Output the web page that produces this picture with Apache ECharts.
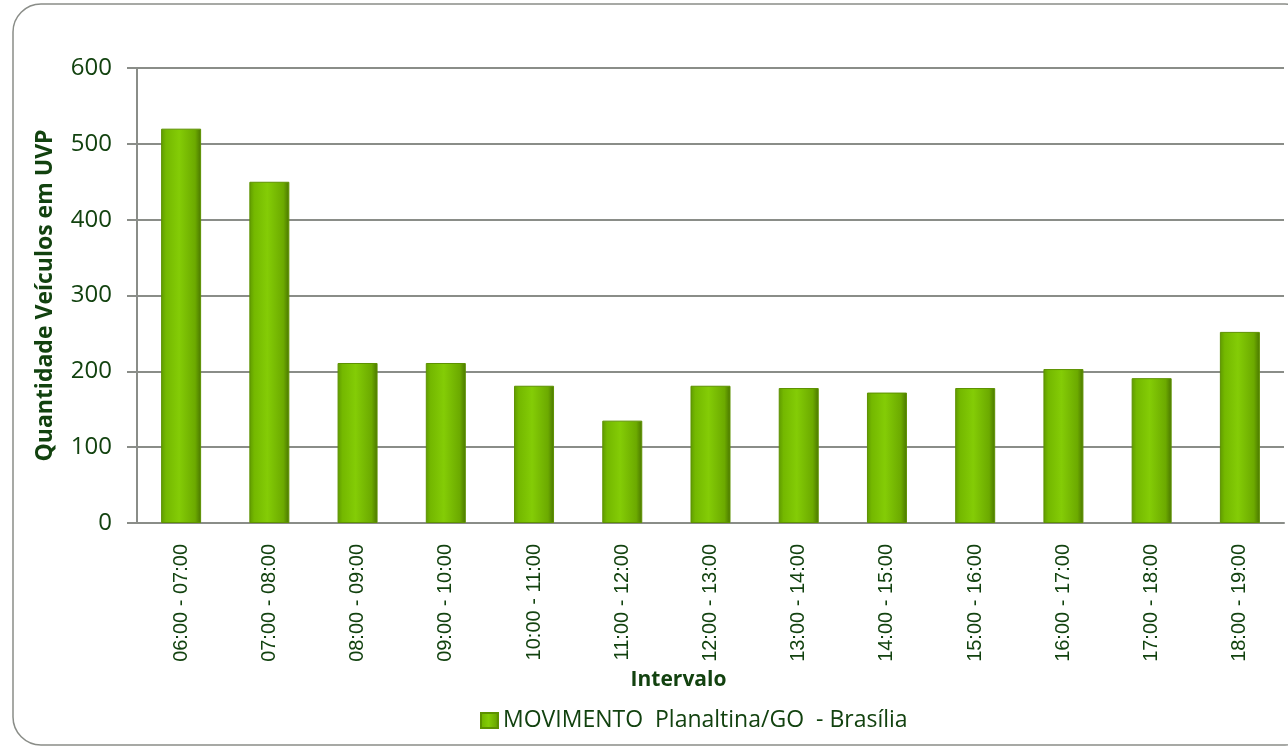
<!DOCTYPE html>
<html>
<head>
<meta charset="utf-8">
<script src="https://cdn.jsdelivr.net/npm/echarts@6/dist/echarts.min.js"></script>
<style>
  html, body { margin: 0; padding: 0; background: #fff; }
  #main { width: 1288px; height: 750px; }
</style>
</head>
<body>
<div id="main"></div>
<script>
// dados
var intervalos = ['06:00 - 07:00', '07:00 - 08:00', '08:00 - 09:00', '09:00 - 10:00',
  '10:00 - 11:00', '11:00 - 12:00', '12:00 - 13:00', '13:00 - 14:00', '14:00 - 15:00',
  '15:00 - 16:00', '16:00 - 17:00', '17:00 - 18:00', '18:00 - 19:00'];
var movimento = [520, 450, 211, 211, 181, 135, 181, 178, 172, 178, 203, 191, 252];
var nomeSerie = 'MOVIMENTO  Planaltina/GO  - Brasília';

var verdeTexto = '#12420f';

var barGradient = new echarts.graphic.LinearGradient(0, 0, 1, 0, [
  { offset: 0, color: '#5f9a00' },
  { offset: 0.12, color: '#74b800' },
  { offset: 0.45, color: '#84cc06' },
  { offset: 0.85, color: '#6caa00' },
  { offset: 1, color: '#4a7600' }
]);

var myChart = echarts.init(document.getElementById('main'));
myChart.setOption({
  animation: false,
  backgroundColor: '#fff',
  graphic: [{
    type: 'rect',
    shape: { x: 13, y: 4, width: 1300, height: 741, r: 28 },
    style: { fill: 'none', stroke: '#8a8d88', lineWidth: 1.5 },
    silent: true
  }],
  grid: { left: 137, right: 4, top: 68, bottom: 227 },
  legend: {
    top: 704,
    left: 475,
    icon: 'rect',
    itemWidth: 17,
    itemHeight: 15,
    itemGap: 6,
    textStyle: { color: verdeTexto, fontSize: 23, fontFamily: 'Open Sans' },
    data: [nomeSerie]
  },
  xAxis: {
    type: 'category',
    data: intervalos,
    name: 'Intervalo',
    nameLocation: 'middle',
    nameGap: 143,
    nameTextStyle: {
      color: verdeTexto, fontSize: 21, fontWeight: 'bold', fontFamily: 'Open Sans',
      padding: [0, 64, 0, 0]
    },
    axisLine: { lineStyle: { color: '#8a8d88', width: 2 } },
    axisTick: { length: 7, lineStyle: { color: '#8a8d88', width: 2 } },
    axisLabel: {
      rotate: 90,
      interval: 0,
      margin: 21,
      color: verdeTexto,
      fontSize: 20,
      fontFamily: 'Liberation Sans'
    }
  },
  yAxis: {
    type: 'value',
    min: 0,
    max: 600,
    interval: 100,
    name: 'Quantidade Veículos em UVP',
    nameLocation: 'middle',
    nameGap: 80,
    nameTextStyle: { color: verdeTexto, fontSize: 23, fontWeight: 'bold', fontFamily: 'Open Sans' },
    axisLine: { show: true, lineStyle: { color: '#8a8d88', width: 2 } },
    axisTick: { show: true, length: 10, lineStyle: { color: '#8a8d88', width: 2 } },
    axisLabel: { color: verdeTexto, fontSize: 24, margin: 25, fontFamily: 'Open Sans' },
    splitLine: { lineStyle: { color: '#8a8d88', width: 2 } }
  },
  series: [{
    name: nomeSerie,
    type: 'bar',
    data: movimento,
    barWidth: 40,
    itemStyle: {
      color: barGradient,
      borderColor: '#5d9100',
      borderWidth: 1
    }
  }]
});
</script>
</body>
</html>
